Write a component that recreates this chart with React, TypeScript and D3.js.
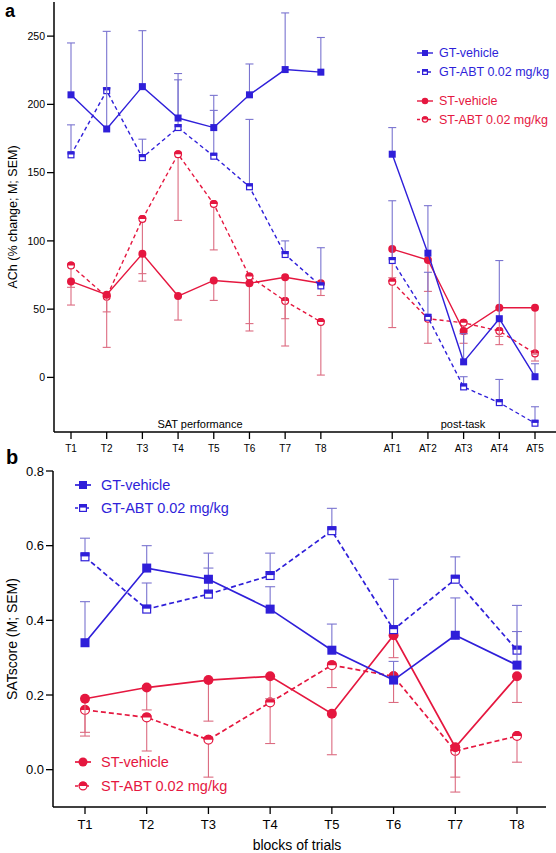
import React from "react";
import * as d3 from "d3";

// ---------- Panel a data ----------
const tLabels = ["T1", "T2", "T3", "T4", "T5", "T6", "T7", "T8"];
const atLabels = ["AT1", "AT2", "AT3", "AT4", "AT5"];
const catsA = [...tLabels, ...atLabels];

const gtVehA = [207, 182, 213, 190, 183, 207, 225.5, 223.6, 163.5, 91, 11.4, 43, 0.5];
const gtVehAUp = [245, 253.5, 254, 222.6, 206.6, 229.6, 267, 249, 183, 125.8, 32, 85.6, 10];
const gtAbtA = [163, 210, 161, 183, 162, 139.6, 90, 67, 85.6, 44, -7, -18.5, -33.6];
const gtAbtAUp = [185, 212, 174.5, 218, 195.6, 189, 100, 95, 129.4, 77, 0.5, -1.5, -21.5];
const stVehA = [70.3, 60.6, 90.5, 59.6, 71, 69, 73.4, 69, 94, 86, 34, 51, 51];
const stVehALo = [53, 48, 70.5, 42, 56.4, 39.4, 43, 60, 73, 63, 25, 30, 17];
const stAbtA = [82, 59, 116, 163.5, 127, 74, 56, 40.6, 70, 43, 40, 34, 17.5];
const stAbtALo = [66, 22, 76, 115, 93.4, 34, 23, 1.7, 36.5, 25, 32, 24, 12];
const yTicksA = [0, 50, 100, 150, 200, 250];

// ---------- Panel b data ----------
const catsB = tLabels;
const gtVehB = [0.34, 0.54, 0.51, 0.43, 0.32, 0.24, 0.36, 0.28];
const gtVehBUp = [0.45, 0.6, 0.58, 0.49, 0.39, 0.29, 0.46, 0.37];
const gtAbtB = [0.57, 0.43, 0.47, 0.52, 0.64, 0.375, 0.51, 0.32];
const gtAbtBUp = [0.62, 0.5, 0.54, 0.58, 0.7, 0.51, 0.57, 0.44];
const stVehB = [0.19, 0.22, 0.24, 0.25, 0.15, 0.36, 0.06, 0.25];
const stVehBLo = [0.1, 0.16, 0.13, 0.19, 0.04, 0.3, -0.02, 0.18];
const stAbtB = [0.16, 0.14, 0.08, 0.18, 0.28, 0.25, 0.05, 0.09];
const stAbtBLo = [0.09, 0.05, -0.02, 0.07, 0.22, 0.18, -0.06, 0.02];
const yTicksB = [0.0, 0.2, 0.4, 0.6, 0.8];

const seriesNames = ["GT-vehicle", "GT-ABT 0.02 mg/kg", "ST-vehicle", "ST-ABT 0.02 mg/kg"];

const BLUE = "#2f1fd9";
const BLUE_ERR = "#7a74d0";
const RED = "#e5173f";
const RED_ERR = "#dc6b80";
const FONT = "'Liberation Sans', Arial, Helvetica, sans-serif";

type Shape = "square" | "circle";

function Marker({ x, y, shape, color, half, size }: { x: number; y: number; shape: Shape; color: string; half: boolean; size: number }) {
  if (shape === "square") {
    const s = size;
    if (!half) return <rect x={x - s / 2} y={y - s / 2} width={s} height={s} fill={color} />;
    return (
      <g>
        <rect x={x - s / 2 + 0.6} y={y - s / 2 + 0.6} width={s - 1.2} height={s - 1.2} fill="#fff" stroke={color} strokeWidth={1.2} />
        <rect x={x - s / 2} y={y - s / 2} width={s} height={s * 0.45} fill={color} />
      </g>
    );
  }
  const r = size / 2;
  if (!half) return <circle cx={x} cy={y} r={r} fill={color} />;
  return (
    <g>
      <circle cx={x} cy={y} r={r - 0.6} fill="#fff" stroke={color} strokeWidth={1.2} />
      <path d={`M${x - r},${y} A${r},${r} 0 0 1 ${x + r},${y} Z`} fill={color} />
    </g>
  );
}

type Series = { vals: number[]; err: number[]; color: string; errColor: string; dashed: boolean; shape: Shape; half: boolean };

function SeriesG({ s, xs, y, lw, msize, cap, dash, breakAt }: { s: Series; xs: number[]; y: d3.ScaleLinear<number, number>; lw: number; msize: number; cap: number; dash: string; breakAt?: number }) {
  const line = d3
    .line<number>()
    .defined((_, i) => breakAt === undefined || i !== breakAt)
    .x((_, i) => xs[i])
    .y((v) => y(v));
  // insert a break between segments by making index breakAt undefined in a copy
  const pts: (number | null)[] = [];
  const xx: number[] = [];
  s.vals.forEach((v, i) => {
    if (breakAt !== undefined && i === breakAt) {
      pts.push(null);
      xx.push(xs[i]);
    }
    pts.push(v);
    xx.push(xs[i]);
  });
  const seg = d3
    .line<number | null>()
    .defined((v) => v !== null)
    .x((_, i) => xx[i])
    .y((v) => y(v as number));
  void line;
  return (
    <g>
      {s.vals.map((v, i) => (
        <g key={"e" + i}>
          <line x1={xs[i]} x2={xs[i]} y1={y(v)} y2={y(s.err[i])} stroke={s.errColor} strokeWidth={1.1} />
          <line x1={xs[i] - cap / 2} x2={xs[i] + cap / 2} y1={y(s.err[i])} y2={y(s.err[i])} stroke={s.errColor} strokeWidth={1.1} />
        </g>
      ))}
      <path d={seg(pts) || ""} fill="none" stroke={s.color} strokeWidth={lw} strokeDasharray={s.dashed ? dash : undefined} />
      {s.vals.map((v, i) => (
        <Marker key={"m" + i} x={xs[i]} y={y(v)} shape={s.shape} color={s.color} half={s.half} size={msize} />
      ))}
    </g>
  );
}

function LegendItem({ x, y, label, color, shape, half, dashed, size, fs, lw, gap }: { x: number; y: number; label: string; color: string; shape: Shape; half: boolean; dashed: boolean; size: number; fs: number; lw: number; gap: number }) {
  return (
    <g>
      <line x1={x - 8} x2={x + 8} y1={y} y2={y} stroke={color} strokeWidth={lw} strokeDasharray={dashed ? "3,2.5" : undefined} />
      <Marker x={x} y={y} shape={shape} color={color} half={half} size={size} />
      <text x={x + gap} y={y} dy="0.35em" fill={color} fontSize={fs} fontFamily={FONT}>
        {label}
      </text>
    </g>
  );
}

export default function App() {
  // ----- panel a scales -----
  const slotA = catsA.map((_, i) => (i < tLabels.length ? i : i + 1));
  const xA = d3.scaleLinear().domain([0, d3.max(slotA) as number]).range([71, 535]);
  const xsA = slotA.map((s) => xA(s));
  const yA = d3.scaleLinear().domain([-40, 275]).range([432, 2]);
  const axA = { left: 54, bottom: 432, right: 556 };

  // ----- panel b scales -----
  const xB = d3.scaleLinear().domain([0, catsB.length - 1]).range([85, 517]);
  const xsB = catsB.map((_, i) => xB(i));
  const yB = d3.scaleLinear().domain([-0.1, 0.8]).range([807, 471]);
  const axB = { left: 53, bottom: 807, right: 546 };

  const seriesA: Series[] = [
    { vals: gtVehA, err: gtVehAUp, color: BLUE, errColor: BLUE_ERR, dashed: false, shape: "square", half: false },
    { vals: gtAbtA, err: gtAbtAUp, color: BLUE, errColor: BLUE_ERR, dashed: true, shape: "square", half: true },
    { vals: stVehA, err: stVehALo, color: RED, errColor: RED_ERR, dashed: false, shape: "circle", half: false },
    { vals: stAbtA, err: stAbtALo, color: RED, errColor: RED_ERR, dashed: true, shape: "circle", half: true },
  ];
  const seriesB: Series[] = [
    { vals: gtVehB, err: gtVehBUp, color: BLUE, errColor: BLUE_ERR, dashed: false, shape: "square", half: false },
    { vals: gtAbtB, err: gtAbtBUp, color: BLUE, errColor: BLUE_ERR, dashed: true, shape: "square", half: true },
    { vals: stVehB, err: stVehBLo, color: RED, errColor: RED_ERR, dashed: false, shape: "circle", half: false },
    { vals: stAbtB, err: stAbtBLo, color: RED, errColor: RED_ERR, dashed: true, shape: "circle", half: true },
  ];

  const drawOrder = [3, 2, 1, 0];

  return (
    <svg width={556} height={853} style={{ position: "absolute", left: 0, top: 0, background: "#fff" }}>
      <rect width={556} height={853} fill="#fff" />
      {/* ================= Panel a ================= */}
      <text x={5} y={17} fontSize={18} fontWeight="bold" fontFamily={FONT}>a</text>
      <line x1={axA.left} x2={axA.left} y1={2} y2={axA.bottom} stroke="#000" strokeWidth={1.5} />
      <line x1={axA.left} x2={axA.right} y1={axA.bottom} y2={axA.bottom} stroke="#000" strokeWidth={1.5} />
      {yTicksA.map((t) => (
        <g key={"ya" + t}>
          <line x1={axA.left - 7} x2={axA.left} y1={yA(t)} y2={yA(t)} stroke="#000" strokeWidth={1.3} />
          <text x={axA.left - 9} y={yA(t)} dy="0.35em" textAnchor="end" fontSize={10.5} fontFamily={FONT}>{t}</text>
        </g>
      ))}
      {catsA.map((c, i) => (
        <g key={"xa" + c}>
          <line x1={xsA[i]} x2={xsA[i]} y1={axA.bottom} y2={axA.bottom + 7} stroke="#000" strokeWidth={1.3} />
          <text x={xsA[i]} y={axA.bottom + 16} dy="0.35em" textAnchor="middle" fontSize={10} fontFamily={FONT}>{c}</text>
        </g>
      ))}
      <text transform={`translate(13,${(2 + axA.bottom) / 2}) rotate(-90)`} textAnchor="middle" dy="0.35em" fontSize={12.5} fontFamily={FONT}>
        ACh (% change; M; SEM)
      </text>
      <text x={200} y={424} dy="0.35em" textAnchor="middle" fontSize={11} fontFamily={FONT}>SAT performance</text>
      <text x={463} y={424} dy="0.35em" textAnchor="middle" fontSize={11} fontFamily={FONT}>post-task</text>
      {drawOrder.map((k) => (
        <SeriesG key={"sa" + k} s={seriesA[k]} xs={xsA} y={yA} lw={1.4} msize={seriesA[k].shape === "square" ? 7 : 8} cap={8} dash="4,3" breakAt={tLabels.length} />
      ))}
      {seriesA.map((s, k) => (
        <LegendItem key={"la" + k} x={425} y={[53, 72, 101, 119.5][k]} label={seriesNames[k]} color={s.color} shape={s.shape} half={s.half} dashed={s.dashed} size={s.shape === "square" ? 6 : 6.5} fs={12.5} lw={1.4} gap={14} />
      ))}

      {/* ================= Panel b ================= */}
      <text x={6} y={464} fontSize={20} fontWeight="bold" fontFamily={FONT}>b</text>
      <line x1={axB.left} x2={axB.left} y1={yB(0.8)} y2={axB.bottom} stroke="#000" strokeWidth={1.5} />
      <line x1={axB.left} x2={axB.right} y1={axB.bottom} y2={axB.bottom} stroke="#000" strokeWidth={1.5} />
      {yTicksB.map((t) => (
        <g key={"yb" + t}>
          <line x1={axB.left - 7} x2={axB.left} y1={yB(t)} y2={yB(t)} stroke="#000" strokeWidth={1.3} />
          <text x={axB.left - 9} y={yB(t)} dy="0.35em" textAnchor="end" fontSize={13} fontFamily={FONT}>{t.toFixed(1)}</text>
        </g>
      ))}
      {catsB.map((c, i) => (
        <g key={"xb" + c}>
          <line x1={xsB[i]} x2={xsB[i]} y1={axB.bottom} y2={axB.bottom + 7} stroke="#000" strokeWidth={1.3} />
          <text x={xsB[i]} y={axB.bottom + 17} dy="0.35em" textAnchor="middle" fontSize={13} fontFamily={FONT}>{c}</text>
        </g>
      ))}
      <text transform={`translate(12,${(yB(0.8) + axB.bottom) / 2}) rotate(-90)`} textAnchor="middle" dy="0.35em" fontSize={14} fontFamily={FONT}>
        SATscore (M; SEM)
      </text>
      <text x={297} y={845} dy="0.35em" textAnchor="middle" fontSize={14} fontFamily={FONT}>blocks of trials</text>
      {drawOrder.map((k) => (
        <SeriesG key={"sb" + k} s={seriesB[k]} xs={xsB} y={yB} lw={1.7} msize={seriesB[k].shape === "square" ? 9 : 10} cap={10} dash="5,3" />
      ))}
      {seriesB.map((s, k) => (
        <LegendItem key={"lb" + k} x={83} y={[485, 508, 762, 786][k]} label={seriesNames[k]} color={s.color} shape={s.shape} half={s.half} dashed={s.dashed} size={s.shape === "square" ? 8 : 9} fs={14.5} lw={1.7} gap={18} />
      ))}
    </svg>
  );
}
